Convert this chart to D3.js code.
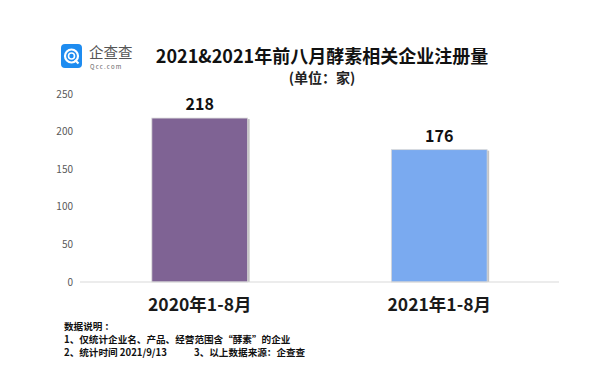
<!DOCTYPE html>
<html>
<head>
<meta charset="utf-8">
<script src="https://cdn.jsdelivr.net/npm/d3@7"></script>
<style>
  body { margin: 0; background: #fff; }
  text { font-family: "Noto Sans CJK SC", "Noto Sans", sans-serif; }
</style>
</head>
<body>
<div id="chart"></div>
<script>
const w = 604;
const h = 375;

// data
const categories = ["2020年1-8月", "2021年1-8月"];
const values = [218, 176];
const barColors = ["#7f6394", "#7aaaf0"];
const yTicks = [0, 50, 100, 150, 200, 250];
const titleText = "2021&2021年前八月酵素相关企业注册量";
const unitText = "(单位：家)";
const notes = ["数据说明 ：", "1、仅统计企业名、产品、经营范围含“酵素”的企业", "2、统计时间  2021/9/13", "3、以上数据来源：企查查"];

const svg = d3.select("#chart").append("svg").attr("width", w).attr("height", h);

const x = d3.scaleBand().domain(categories).range([80, 559]).paddingInner(0.6).paddingOuter(0.3);
const y = d3.scaleLinear().domain([0, 250]).range([282, 94]);

//logo
const logo = svg.append("g").attr("transform", "translate(61,44)");
logo.append("rect").attr("width", 21).attr("height", 24).attr("rx", 4).style("fill", "#1e8cf0");
logo.append("circle").attr("cx", 10.5).attr("cy", 12).attr("r", 6.5)
    .style("fill", "none").style("stroke", "#fff").style("stroke-width", 2.2);
logo.append("circle").attr("cx", 10.5).attr("cy", 12).attr("r", 3)
    .style("fill", "none").style("stroke", "#fff").style("stroke-width", 1.6);
logo.append("line").attr("x1", 14).attr("y1", 16).attr("x2", 17.5).attr("y2", 19.5)
    .style("stroke", "#fff").style("stroke-width", 2.2);
logo.append("text").attr("x", 28).attr("y", 13.5).text("企查查")
    .style("font-size", "14.5px").style("fill", "#555");
logo.append("text").attr("x", 29).attr("y", 24.5).text("Qcc.com")
    .style("font-size", "6px").style("letter-spacing", "1.2px").style("fill", "#666");

//title
svg.append("text").attr("x", 322).attr("y", 63).attr("text-anchor", "middle")
    .text(titleText).style("font-size", "18px").style("font-weight", "bold").style("fill", "#111");
svg.append("text").attr("x", 322).attr("y", 83).attr("text-anchor", "middle")
    .text(unitText).style("font-size", "14px").style("font-weight", "bold").style("fill", "#222");

//y axis labels
svg.append("g").selectAll("text").data(yTicks).enter().append("text")
    .attr("x", 73).attr("y", d => y(d) + 3.5).attr("text-anchor", "end")
    .text(d => d).style("font-size", "10px").style("fill", "#595959");

//bars
const bars = svg.append("g").selectAll("g").data(values).enter().append("g");
bars.append("rect")
    .attr("x", (d, i) => x(categories[i]) + 2)
    .attr("y", d => y(d) + 1)
    .attr("width", x.bandwidth())
    .attr("height", d => y(0) - y(d) - 1)
    .style("fill", "#c4c4c4");
bars.append("rect")
    .attr("x", (d, i) => x(categories[i]))
    .attr("y", d => y(d))
    .attr("width", x.bandwidth())
    .attr("height", d => y(0) - y(d))
    .style("fill", (d, i) => barColors[i])
    .style("stroke", "#d8d8d8").style("stroke-width", 0.8);
bars.append("text")
    .attr("x", (d, i) => x(categories[i]) + x.bandwidth() / 2)
    .attr("y", d => y(d) - 8)
    .attr("text-anchor", "middle")
    .text(d => d).style("font-size", "16px").style("font-weight", "bold").style("fill", "#111");

//zero line
svg.append("line").attr("x1", 80).attr("x2", 559).attr("y1", y(0)).attr("y2", y(0))
    .style("stroke", "#d9d9d9").style("stroke-width", 1);

//x labels
svg.append("g").selectAll("text").data(categories).enter().append("text")
    .attr("x", d => x(d) + x.bandwidth() / 2).attr("y", 311).attr("text-anchor", "middle")
    .text(d => d).style("font-size", "17.5px").style("font-weight", "bold").style("fill", "#1a1a1a");

//notes
const nt = svg.append("g").style("font-size", "9.6px").style("font-weight", "bold").style("fill", "#111");
nt.append("text").attr("x", 64).attr("y", 330).text(notes[0]);
nt.append("text").attr("x", 64).attr("y", 343).text(notes[1]);
nt.append("text").attr("x", 64).attr("y", 356).text(notes[2]);
nt.append("text").attr("x", 194).attr("y", 356).text(notes[3]);
</script>
</body>
</html>
